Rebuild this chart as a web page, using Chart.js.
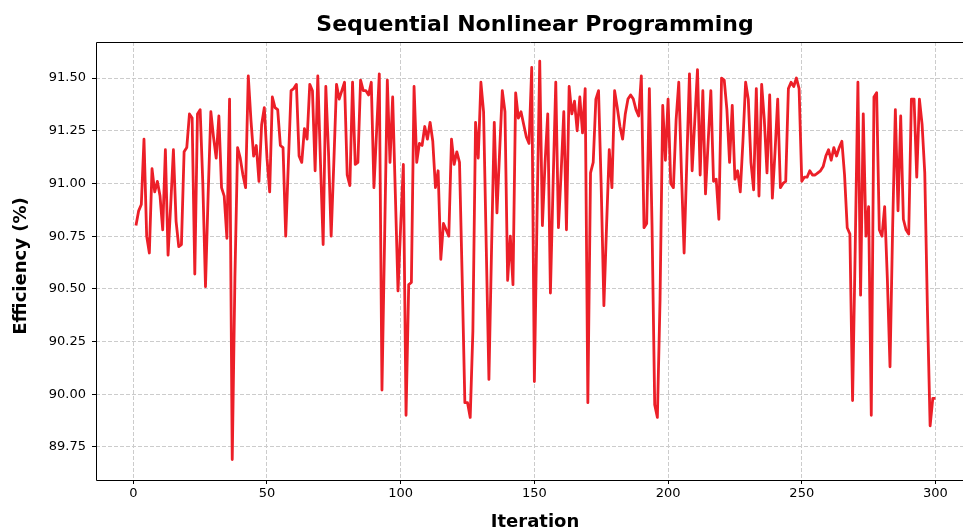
<!DOCTYPE html>
<html>
<head>
<meta charset="utf-8">
<script src="https://cdn.jsdelivr.net/npm/chart.js@4.4.1/dist/chart.umd.min.js"></script>
<style>
html, body { margin: 0; padding: 0; background: #ffffff; overflow: hidden; }
canvas { display: block; }
</style>
</head>
<body>
<canvas id="chart" width="963" height="530"></canvas>
<script>
const chartTitle = "Sequential Nonlinear Programming";
const xAxisLabel = "Iteration";
const yAxisLabel = "Efficiency (%)";

const xTickValues = [0, 50, 100, 150, 200, 250, 300];
const yTickValues = [89.75, 90.00, 90.25, 90.50, 90.75, 91.00, 91.25, 91.50];

const efficiency = [
  90.80, 90.87, 90.90, 91.21, 90.75, 90.67, 91.07, 90.96, 91.01, 90.94,
  90.78, 91.16, 90.66, 90.90, 91.16, 90.82, 90.70, 90.71, 91.15, 91.17,
  91.33, 91.31, 90.57, 91.33, 91.35, 91.00, 90.51, 90.95, 91.34, 91.22,
  91.12, 91.32, 90.98, 90.94, 90.74, 91.40, 89.69, 90.55, 91.17, 91.12,
  91.04, 90.98, 91.51, 91.30, 91.13, 91.18, 91.01, 91.28, 91.36, 91.12,
  90.96, 91.41, 91.36, 91.35, 91.18, 91.17, 90.75, 91.10, 91.44, 91.45,
  91.47, 91.13, 91.10, 91.26, 91.21, 91.47, 91.44, 91.06, 91.51, 91.10,
  90.71, 91.46, 91.15, 90.75, 91.10, 91.47, 91.40, 91.44, 91.48, 91.04,
  90.99, 91.48, 91.09, 91.10, 91.49, 91.44, 91.44, 91.42, 91.48, 90.98,
  91.25, 91.52, 90.02, 90.75, 91.49, 91.10, 91.41, 90.95, 90.49, 90.80,
  91.09, 89.90, 90.52, 90.53, 91.46, 91.10, 91.19, 91.18, 91.27, 91.21,
  91.29, 91.20, 90.98, 91.06, 90.64, 90.81, 90.78, 90.75, 91.21, 91.09,
  91.15, 91.10, 90.55, 89.96, 89.96, 89.89, 90.30, 91.29, 91.12, 91.48,
  91.34, 90.70, 90.07, 90.70, 91.29, 90.86, 91.15, 91.44, 91.34, 90.54,
  90.75, 90.52, 91.43, 91.31, 91.34, 91.28, 91.22, 91.19, 91.55, 90.06,
  90.85, 91.58, 90.80, 91.10, 91.33, 90.48, 91.00, 91.48, 90.79, 91.05,
  91.34, 90.78, 91.46, 91.33, 91.39, 91.25, 91.41, 91.24, 91.45, 89.96,
  91.05, 91.10, 91.40, 91.44, 90.98, 90.42, 90.80, 91.16, 90.98, 91.44,
  91.36, 91.27, 91.21, 91.33, 91.40, 91.42, 91.40, 91.35, 91.32, 91.51,
  90.79, 90.81, 91.45, 90.80, 89.95, 89.89, 90.45, 91.37, 91.11, 91.40,
  91.00, 90.98, 91.30, 91.48, 91.05, 90.67, 91.10, 91.52, 91.06, 91.30,
  91.54, 91.04, 91.44, 90.95, 91.20, 91.44, 91.01, 91.02, 90.83, 91.50,
  91.49, 91.35, 91.10, 91.37, 91.02, 91.06, 90.96, 91.20, 91.48, 91.40,
  91.10, 90.97, 91.45, 90.94, 91.47, 91.30, 91.05, 91.42, 90.93, 91.15,
  91.40, 90.98, 91.00, 91.01, 91.45, 91.48, 91.46, 91.50, 91.45, 91.01,
  91.03, 91.03, 91.06, 91.04, 91.04, 91.05, 91.06, 91.08, 91.13, 91.16,
  91.11, 91.17, 91.13, 91.17, 91.20, 91.04, 90.79, 90.76, 89.97, 90.70,
  91.48, 90.47, 91.33, 90.75, 90.89, 89.90, 91.41, 91.43, 90.78, 90.75,
  90.89, 90.55, 90.13, 90.80, 91.35, 90.87, 91.32, 90.83, 90.78, 90.76,
  91.40, 91.40, 91.03, 91.40, 91.28, 91.05, 90.40, 89.85, 89.98, 89.98
];

const iterations = efficiency.map((_, i) => i + 1);

const FONT = "'DejaVu Sans', 'Liberation Sans', sans-serif";

const framePlugin = {
  id: 'frame',
  afterDraw(chart) {
    const { ctx, chartArea } = chart;
    ctx.save();
    ctx.strokeStyle = '#000000';
    ctx.lineWidth = 1;
    ctx.beginPath();
    ctx.moveTo(chartArea.left + 0.5, chartArea.bottom + 0.5);
    ctx.lineTo(chartArea.left + 0.5, chartArea.top + 0.5);
    ctx.lineTo(chartArea.right + 2, chartArea.top + 0.5);
    ctx.moveTo(chartArea.left + 0.5, chartArea.bottom + 0.5);
    ctx.lineTo(chartArea.right + 2, chartArea.bottom + 0.5);
    ctx.stroke();

    ctx.fillStyle = '#000000';
    ctx.font = "bold 22px " + FONT;
    ctx.textAlign = 'center';
    ctx.textBaseline = 'alphabetic';
    ctx.fillText(chartTitle, 535, 31);
    ctx.font = "bold 18px " + FONT;
    ctx.fillText(xAxisLabel, 535, 527);
    ctx.translate(26, 266);
    ctx.rotate(-Math.PI / 2);
    ctx.fillText(yAxisLabel, 0, 0);
    ctx.restore();
  }
};

new Chart(document.getElementById('chart'), {
  type: 'line',
  data: {
    datasets: [{
      data: iterations.map((x, i) => ({ x: x, y: efficiency[i] })),
      borderColor: '#ec1f28',
      borderWidth: 2.8,
      pointRadius: 0,
      tension: 0,
      fill: false,
      borderJoinStyle: 'round',
      borderCapStyle: 'butt'
    }]
  },
  options: {
    responsive: false,
    animation: false,
    devicePixelRatio: 1,
    layout: { padding: { top: 42, left: 0, right: 0, bottom: 0 } },
    plugins: {
      legend: { display: false },
      title: { display: false },
      tooltip: { enabled: false }
    },
    scales: {
      x: {
        type: 'linear',
        min: -13.95,
        max: 310.3,
        afterBuildTicks: s => { s.ticks = xTickValues.map(v => ({ value: v })); },
        afterFit: s => { s.height = 50; },
        ticks: {
          autoSkip: false,
          maxRotation: 0,
          padding: 2,
          color: '#000000',
          font: { family: FONT, size: 13 },
          callback: v => String(v)
        },
        grid: {
          color: '#cccccc',
          lineWidth: 1,
          drawTicks: true,
          tickLength: 4,
          tickColor: '#000000',
          tickWidth: 1,
          tickBorderDash: []
        },
        border: { display: false, dash: [4, 2] }
      },
      y: {
        type: 'linear',
        min: 89.593,
        max: 91.671,
        afterBuildTicks: s => { s.ticks = yTickValues.map(v => ({ value: v })); },
        afterFit: s => { s.width = 96; },
        ticks: {
          padding: 6,
          color: '#000000',
          font: { family: FONT, size: 13 },
          callback: v => Number(v).toFixed(2)
        },
        grid: {
          color: '#cccccc',
          lineWidth: 1,
          drawTicks: true,
          tickLength: 4,
          tickColor: '#000000',
          tickWidth: 1,
          tickBorderDash: []
        },
        border: { display: false, dash: [4, 2] }
      }
    }
  },
  plugins: [framePlugin]
});
</script>
</body>
</html>
